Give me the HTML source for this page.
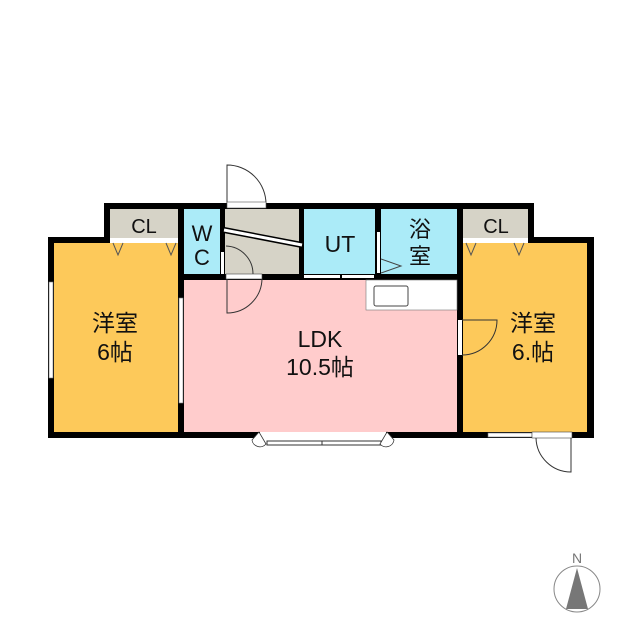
<!DOCTYPE html>
<html><head><meta charset="utf-8"><style>
html,body{margin:0;padding:0;background:#fff;}
svg{display:block}
text{font-family:"Liberation Sans","Noto Sans CJK JP",sans-serif;fill:#111;text-anchor:middle}
</style></head><body>
<svg width="640" height="640" viewBox="0 0 640 640" xmlns="http://www.w3.org/2000/svg">
<path d="M227 204 V165 A39 39 0 0 1 266 204" fill="none" stroke="#333" stroke-width="1"/>
<rect x="48" y="237" width="137" height="201" fill="#000"/>
<rect x="104" y="203" width="81" height="40" fill="#000"/>
<rect x="178" y="203" width="286" height="235" fill="#000"/>
<rect x="458" y="203" width="76" height="40" fill="#000"/>
<rect x="458" y="237" width="136" height="201" fill="#000"/>
<rect x="54" y="243" width="124" height="189" fill="#FDC95A"/>
<rect x="110" y="209" width="68" height="29" fill="#D6D3C7"/>
<rect x="184" y="209" width="36" height="65" fill="#ABEBF8"/>
<rect x="225" y="209" width="74" height="65" fill="#D6D3C7"/>
<rect x="304" y="209" width="71" height="65" fill="#ABEBF8"/>
<rect x="381" y="209" width="76" height="65" fill="#ABEBF8"/>
<rect x="184" y="280" width="273" height="152" fill="#FFCCCC"/>
<rect x="463" y="209" width="65" height="29" fill="#D6D3C7"/>
<rect x="463" y="243" width="124" height="189" fill="#FDC95A"/>
<rect x="110" y="238" width="68" height="5" fill="#fff"/>
<rect x="463" y="238" width="65" height="5" fill="#fff"/>
<g fill="none" stroke="#555" stroke-width="1">
<path d="M113 243 L118 255 L123 243 M166 243 L171 255 L176 243"/>
<path d="M466 243 L471 255 L476 243 M514 243 L519 255 L524 243"/>
</g>
<rect x="49" y="282" width="4" height="96" fill="#fff" stroke="#777" stroke-width="0.6"/>
<rect x="179" y="298" width="4" height="105" fill="#fff" stroke="#777" stroke-width="0.6"/>
<rect x="488" y="433" width="44" height="4" fill="#fff" stroke="#777" stroke-width="0.6"/>
<rect x="227" y="202" width="39" height="6" fill="#fff" stroke="#555" stroke-width="0.6"/>
<path d="M224 230 L302 245" stroke="#000" stroke-width="6"/>
<path d="M224 230 L302 245" stroke="#fff" stroke-width="3"/>
<rect x="221" y="252" width="3" height="22" fill="#fff"/>
<path d="M226 246 A28 28 0 0 1 253 274" fill="none" stroke="#333" stroke-width="1"/>
<rect x="226" y="274" width="36" height="5" fill="#fff" stroke="#444" stroke-width="0.6"/>
<path d="M227 279 V313 A35 35 0 0 0 262 279" fill="none" stroke="#333" stroke-width="1"/>
<rect x="304" y="275" width="36" height="3" fill="#fff"/>
<rect x="342" y="275" width="32" height="3" fill="#fff"/>
<rect x="377" y="232" width="3" height="41" fill="#fff"/>
<path d="M381 259 L401 266 L381 273" fill="none" stroke="#444" stroke-width="1"/>
<rect x="366" y="280" width="91" height="30" fill="#fff" stroke="#777" stroke-width="0.6"/>
<rect x="374" y="286" width="34" height="20" rx="2" fill="#fff" stroke="#444" stroke-width="1"/>
<rect x="458" y="320" width="4" height="35" fill="#fff"/>
<path d="M462 320 H497 A35 35 0 0 1 462 355" fill="none" stroke="#333" stroke-width="1"/>
<rect x="532" y="432" width="40" height="6" fill="#fff" stroke="#444" stroke-width="0.6"/>
<path d="M536 438 A35 35 0 0 0 571 472 V438" fill="none" stroke="#333" stroke-width="1"/>
<rect x="260" y="432" width="126" height="10" fill="#fff"/>
<rect x="267" y="441" width="114" height="4" fill="#fff" stroke="#333" stroke-width="1"/>
<line x1="322" y1="441" x2="322" y2="445" stroke="#333"/>
<path d="M259 432 L252 440 A8 8 0 0 0 266 444 Z" fill="#fff" stroke="#333" stroke-width="0.8"/>
<path d="M387 432 L394 440 A8 8 0 0 1 380 444 Z" fill="#fff" stroke="#333" stroke-width="0.8"/>
<text x="144" y="233" font-size="20">CL</text>
<text x="496" y="233" font-size="20">CL</text>
<text x="202" y="241" font-size="22">W</text>
<text x="202" y="265" font-size="22">C</text>
<text x="340" y="252" font-size="23">UT</text>
<text x="420" y="237" font-size="22">浴</text>
<text x="420" y="264" font-size="22">室</text>
<text x="115" y="331" font-size="23">洋室</text>
<text x="115" y="360" font-size="23">6帖</text>
<text x="533" y="331" font-size="23">洋室</text>
<text x="533" y="360" font-size="23">6.帖</text>
<text x="320" y="347" font-size="23">LDK</text>
<text x="320" y="375" font-size="23">10.5帖</text>
<text x="577" y="563" font-size="14" style="fill:#777">N</text>
<circle cx="577" cy="589" r="23" fill="#fff" stroke="#888" stroke-width="1"/>
<path d="M577 568 L566 609 L588 609 Z" fill="#777"/>
</svg>
</body></html>
